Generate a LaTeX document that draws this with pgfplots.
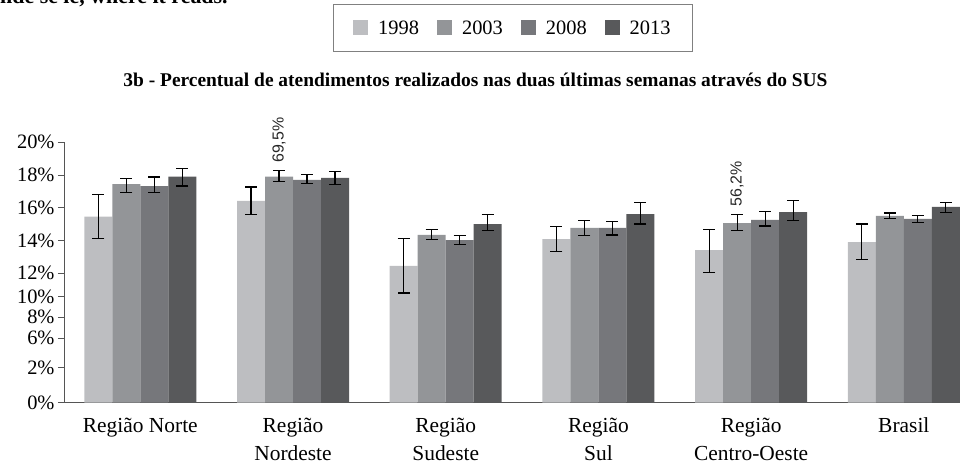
\documentclass[border=0pt]{standalone}
\usepackage{pgfplots}
\pgfplotsset{compat=1.18}
\usepackage{pgfplotstable}
\usepackage{fontspec}
\setmainfont{Liberation Serif}
\newfontfamily\annfont{Liberation Sans}
\definecolor{cA}{HTML}{BDBEC1}
\definecolor{cB}{HTML}{939598}
\definecolor{cC}{HTML}{76777B}
\definecolor{cD}{HTML}{58595B}
\definecolor{axgray}{HTML}{555555}

% x: category index, y: bar value, hi/lo: error bar ends
\pgfplotstableread{
x y hi lo
0 15.46 16.82 14.11
1 16.43 17.27 15.58
2 12.46 14.14 10.80
3 14.09 14.87 13.32
4 13.42 14.66 12.06
5 13.91 15.01 12.85
}\tA
\pgfplotstableread{
x y hi lo
0 17.45 17.80 16.92
1 17.90 18.29 17.58
2 14.34 14.66 14.09
3 14.77 15.24 14.30
4 15.07 15.58 14.60
5 15.50 15.68 15.32
}\tB
\pgfplotstableread{
x y hi lo
0 17.33 17.88 16.92
1 17.70 18.05 17.50
2 14.03 14.30 13.77
3 14.77 15.15 14.34
4 15.26 15.76 14.89
5 15.33 15.52 15.11
}\tC
\pgfplotstableread{
x y hi lo
0 17.90 18.39 17.33
1 17.82 18.20 17.45
2 15.01 15.58 14.60
3 15.62 16.34 15.01
4 15.74 16.43 15.21
5 16.05 16.34 15.74
}\tD

\begin{document}
\begin{tikzpicture}
\begin{axis}[
  name=ax,
  scale only axis, width=896bp, height=260.4bp,
  xmin=-0.5, xmax=5.368,
  ymin=4.098, ymax=20,
  clip mode=individual,
  ybar=0pt, bar width=28bp,
  axis x line*=bottom, axis y line*=left,
  axis line style={axgray, line width=0.9bp},
  xtick={0,1,2,3,4,5},
  xticklabels={Região Norte,{Região\\Nordeste},{Região\\Sudeste},{Região\\Sul},{Região\\Centro-Oeste},Brasil},
  x tick label style={align=center, font=\fontsize{21.5}{28}\selectfont, inner sep=0pt, yshift=-9bp},
  x tick style={draw=none},
  extra x ticks={-0.5}, extra x tick labels={},
  extra x tick style={tick style={draw=axgray, line width=0.9bp}, major tick length=8bp, tick align=outside},
  ytick={4.098,6.235,8.037,9.313,10.571,12,14,16,18,20},
  yticklabels={0\%,2\%,6\%,8\%,10\%,12\%,14\%,16\%,18\%,20\%},
  y tick label style={font=\fontsize{20.5}{22}\selectfont},
  /pgf/number format/assume math mode=true,
  tick align=outside, major tick length=6bp,
  y tick style={axgray, line width=0.9bp},
  error bars/error bar style={black, line width=1.1bp},
  error bars/error mark options={black, line width=1.1bp, mark size=6bp, rotate=90},
  legend columns=4,
  legend style={at={(0.501,1.439)}, anchor=center, draw=gray, line width=0.8bp,
    font=\fontsize{20.5}{22}\selectfont, inner xsep=20bp, inner ysep=14bp,
    /tikz/every odd column/.append style={column sep=8bp},
    /tikz/every even column/.append style={column sep=16bp}},
  legend image code/.code={\fill[#1] (0bp,-7.5bp) rectangle (15bp,7.5bp);},
]
\addplot[fill=cA, draw=none, error bars/.cd, y dir=both, y explicit]
  table[x=x, y=y, y error plus expr=\thisrow{hi}-\thisrow{y}, y error minus expr=\thisrow{y}-\thisrow{lo}] {\tA};
\addplot[fill=cB, draw=none, error bars/.cd, y dir=both, y explicit]
  table[x=x, y=y, y error plus expr=\thisrow{hi}-\thisrow{y}, y error minus expr=\thisrow{y}-\thisrow{lo}] {\tB};
\addplot[fill=cC, draw=none, error bars/.cd, y dir=both, y explicit]
  table[x=x, y=y, y error plus expr=\thisrow{hi}-\thisrow{y}, y error minus expr=\thisrow{y}-\thisrow{lo}] {\tC};
\addplot[fill=cD, draw=none, error bars/.cd, y dir=both, y explicit]
  table[x=x, y=y, y error plus expr=\thisrow{hi}-\thisrow{y}, y error minus expr=\thisrow{y}-\thisrow{lo}] {\tD};
\legend{1998,2003,2008,2013}
\node[rotate=90, anchor=west, inner sep=0pt, font=\annfont\fontsize{16}{18}\selectfont, text=black!85] at (axis cs:0.908,18.74) {69,5\%};
\node[rotate=90, anchor=west, inner sep=0pt, font=\annfont\fontsize{16}{18}\selectfont, text=black!85] at (axis cs:3.908,16.07) {56,2\%};
\end{axis}
\begin{scope}[shift={(ax.south west)}]
\node[anchor=base west,inner sep=0pt,font=\fontsize{22}{24}\selectfont\bfseries] at (-64bp,399.5bp) {nde se lê, where it reads.};
\node[anchor=base,inner sep=0pt,font=\fontsize{19.5}{22}\selectfont\bfseries] at (411.5bp,315.7bp) {3b - Percentual de atendimentos realizados nas duas últimas semanas através do SUS};
\pgfresetboundingbox
\useasboundingbox (-64bp,-62.3bp) rectangle (906bp,402.7bp);
\end{scope}
\end{tikzpicture}
\end{document}
